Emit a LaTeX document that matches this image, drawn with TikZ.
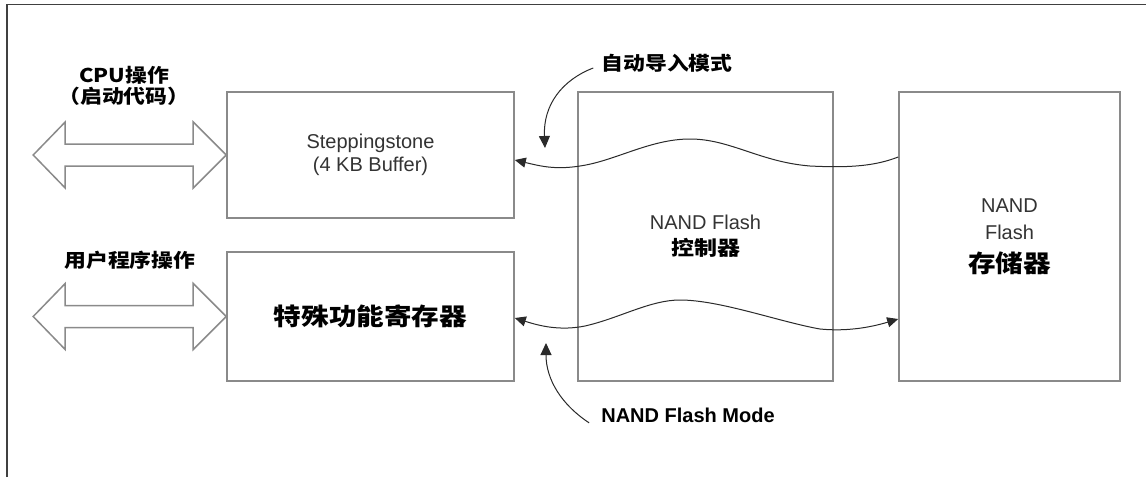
\documentclass[tikz,border=0pt]{standalone}
\usepackage{fontspec}
\setmainfont{Liberation Sans}
\newfontfamily\cjk[FakeStretch=1.15]{Noto Sans CJK SC}
\usetikzlibrary{arrows.meta}
\definecolor{boxgray}{HTML}{8A8A8A}
\definecolor{wiregray}{HTML}{2A2A2A}
\definecolor{textgray}{HTML}{333333}
\begin{document}
\begin{tikzpicture}[x=1pt,y=-1pt,
  block/.style={draw=boxgray, line width=1.6pt, fill=white, inner sep=0pt,
    align=center, text=textgray, font=\fontsize{20}{23}\selectfont},
  cjkbold/.style={font=\cjk\bfseries\fontsize{#1}{#1}\selectfont},
  tag/.style={inner sep=0pt, align=center, text=black},
  busarrow/.style={draw=boxgray, line width=1.5pt, fill=white, line join=miter},
  wire/.style={draw=wiregray, line width=1pt,
    -{Triangle[length=11pt,width=10pt]}},
  wire2/.style={draw=wiregray, line width=1pt,
    {Triangle[length=11pt,width=10pt]}-{Triangle[length=11pt,width=10pt]}},
  pointer/.style={draw=wiregray, line width=1pt,
    -{Triangle[length=12pt,width=11pt]}}]
\useasboundingbox (0,0) rectangle (1146,477);

% outer frame (top and left edges)
\draw[line width=1.6pt, draw=black!75] (7,477) -- (7,4.5) -- (1146,4.5);

% blocks
\node[block, minimum width=287pt, minimum height=126pt] (A) at (370.5,155)
  {Steppingstone\\(4 KB Buffer)};
\node[block, minimum width=287pt, minimum height=129pt] (B) at (370.5,316.5)
  {\textcolor{black}{\cjk\bfseries\fontsize{24}{24}\selectfont 特殊功能寄存器}};
\node[block, minimum width=255pt, minimum height=289pt] (C) at (705.5,236.5)
  {NAND Flash\\[3pt]\textcolor{black}{\cjk\bfseries\fontsize{20}{20}\selectfont 控制器}};
\node[block, minimum width=221pt, minimum height=289pt] (D) at (1009.5,236.5)
  {NAND\\[4pt]Flash\\[10pt]\textcolor{black}{\cjk\bfseries\fontsize{24}{24}\selectfont 存储器}};

% bus arrows into the left blocks
\foreach \n in {A,B}{
  \draw[busarrow] (\n.west) -- ++(-33,-33) -- ++(0,22) -- ++(-128,0)
    -- ++(0,-22) -- ++(-32,33) -- ++(32,33) -- ++(0,-22) -- ++(128,0)
    -- ++(0,22) -- cycle;
}

% labels
\node[tag, font=\cjk\bfseries\fontsize{19}{21}\selectfont] (cpu) at (124,86)
  {CPU操作\\（启动代码）};
\node[tag, cjkbold=19] (user) at (130,260) {用户程序操作};
\node[tag, cjkbold=19] (boot) at (667,63) {自动导入模式};
\node[tag, anchor=base, font=\bfseries\fontsize{20}{20}\selectfont] (mode) at (688,422)
  {NAND Flash Mode};

% wavy data paths between the blocks
\coordinate (ta) at ([yshift=-5pt]A.east);
\coordinate (td) at ([yshift=-2pt]A.east -| D.west);
\coordinate (ba) at ([yshift=-1.5pt]B.east);
\coordinate (bd) at ([yshift=-2.5pt]B.east -| D.west);
\draw[wire] (td) .. controls (875,166) and (850,168) .. (810,166)
  .. controls (760,162) and (730,139) .. (690,139)
  .. controls (650,139) and (615,161) .. (580,166)
  .. controls (555,170) and (540,166) .. (ta);
\draw[wire2] (ba) .. controls (540,326) and (560,331) .. (585,326)
  .. controls (620,318) and (650,300) .. (680,300)
  .. controls (720,300) and (780,322) .. (820,329)
  .. controls (850,332) and (875,326) .. (bd);

% pointers from the mode labels
\coordinate (p1) at (545,148);
\coordinate (p2) at (546,343);
\draw[pointer] ([xshift=-8pt,yshift=-5pt]boot.west) .. controls (562,80) and (543,105) .. (p1);
\draw[pointer] ([xshift=-12pt,yshift=-8pt]mode.west) .. controls (562,405) and (546,380) .. (p2);
\end{tikzpicture}
\end{document}
